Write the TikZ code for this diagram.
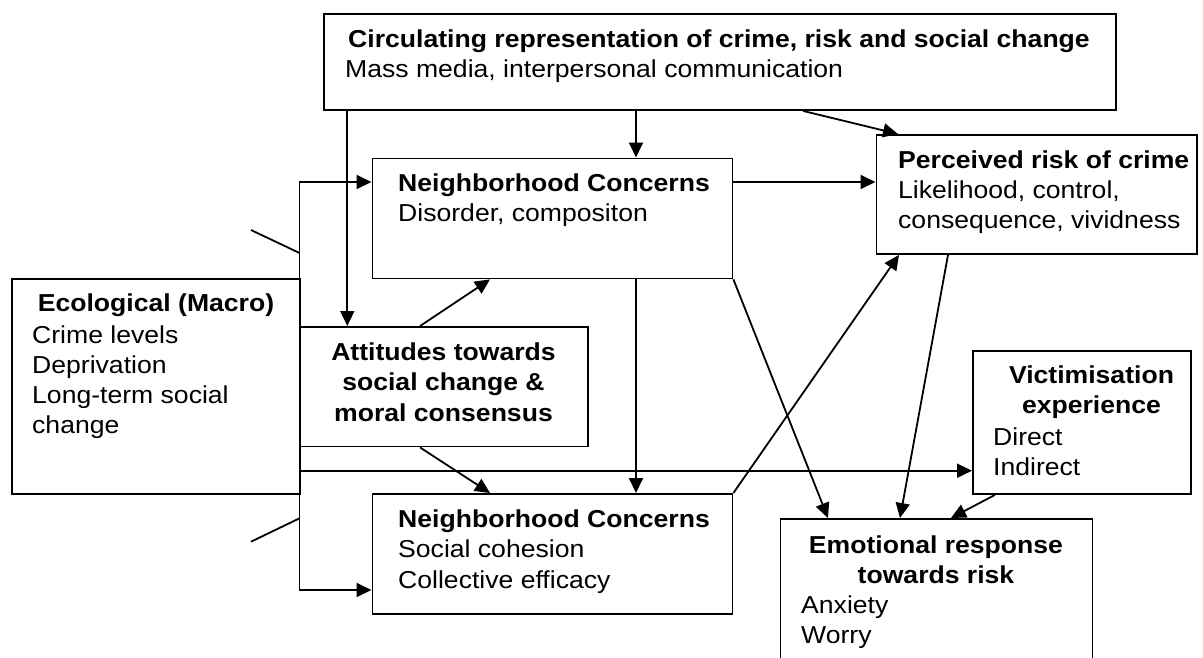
\documentclass[tikz,border=0pt]{standalone}
\usepackage{fontspec}
\setmainfont{Liberation Sans}[FakeStretch=1.085]
\usetikzlibrary{arrows.meta}
\newcommand\diagfs{\fontsize{24.5}{30}\selectfont}
\tikzset{
  box/.style={draw, line width=1.9pt, inner sep=0pt, anchor=north west},
  ln/.style={line width=1.8pt},
  arr/.style={line width=1.8pt, -{Triangle[length=15pt,width=14pt]}},
  tl/.style={anchor=base west, inner sep=0pt, font=\diagfs},
  tc/.style={anchor=base, inner sep=0pt, font=\diagfs\bfseries},
  tb/.style={anchor=base west, inner sep=0pt, font=\diagfs\bfseries},
}
\begin{document}
\begin{tikzpicture}[x=1pt,y=-1pt]
\useasboundingbox (0,0) rectangle (1203,657);
\clip (0,0) rectangle (1203,657);
\fill[white] (0,0) rectangle (1203,657);

% boxes
\node[box, minimum width=792pt, minimum height=96pt] (top) at (323,13) {};
\node[box, minimum width=360pt, minimum height=120pt] (nc1) at (371.5,157.5) {};
\node[box, minimum width=320.5pt, minimum height=119pt] (per) at (875.5,134) {};
\node[box, minimum width=288.5pt, minimum height=215pt] (eco) at (11,278) {};
\node[box, minimum width=287.5pt, minimum height=119.5pt] (att) at (299.5,326) {};
\node[box, minimum width=218pt, minimum height=143pt] (vic) at (972,350) {};
\node[box, minimum width=360pt, minimum height=120pt] (nc2) at (371.5,493) {};
\node[box, minimum width=312pt, minimum height=170pt] (emo) at (779.5,518) {};

% texts
\node[tc] (t1) at (719,47) {Circulating representation of crime, risk and social change};
\node[tl] (t2) at (345,77) {Mass media, interpersonal communication};

\node[tb] (n1a) at (398,191) {Neighborhood Concerns};
\node[tl] (n1b) at (398,221) {Disorder, compositon};

\node[tb] (p1) at (898,168) {Perceived risk of crime};
\node[tl] (p2) at (898,198) {Likelihood, control,};
\node[tl] (p3) at (898,228) {consequence, vividness};

\node[tc] (e1) at (156,311) {Ecological (Macro)};
\node[tl] (e2) at (32,343) {Crime levels};
\node[tl] (e3) at (32,373) {Deprivation};
\node[tl] (e4) at (32,403) {Long-term social};
\node[tl] (e5) at (32,433) {change};

\node[tc] (a1) at (443.5,360) {Attitudes towards};
\node[tc] (a2) at (443.5,390.5) {social change \&};
\node[tc] (a3) at (443.5,421) {moral consensus};

\node[tc] (v1) at (1091.5,383) {Victimisation};
\node[tc] (v2) at (1091.5,413.5) {experience};
\node[tl] (v3) at (993,445) {Direct};
\node[tl] (v4) at (993,475.5) {Indirect};

\node[tb] (n2a) at (398,527) {Neighborhood Concerns};
\node[tl] (n2b) at (398,557.5) {Social cohesion};
\node[tl] (n2c) at (398,588) {Collective efficacy};

\node[tc] (m1) at (936,553) {Emotional response};
\node[tc] (m2) at (936,583) {towards risk};
\node[tl] (m3) at (801,613) {Anxiety};
\node[tl] (m4) at (801,643) {Worry};

% spine and side strokes
\coordinate (s1) at (299.5,182);
\coordinate (s2) at (299.5,590);
\coordinate (s3) at (299.5,470.7);
\coordinate (d1) at (251,230);
\coordinate (d2) at (299.5,253);
\coordinate (d3) at (251,541.7);
\coordinate (d4) at (299.5,518.3);
\draw[ln, {Triangle[length=15pt,width=14pt]}-{Triangle[length=15pt,width=14pt]}]
  (s1 -| nc1.west) -- (s1) -- (s2) -- (s2 -| nc2.west);
\draw[arr] (s3) -- (s3 -| vic.west);
\draw[ln] (d1) -- (d2);
\draw[ln] (d3) -- (d4);

% connectors
\draw[arr] ([xshift=24.3pt]top.south west) -- ([xshift=47.8pt]att.north west);
\draw[arr] ([xshift=313pt]top.south west) -- ([xshift=264.5pt]nc1.north west);
\draw[arr] ([xshift=480pt]top.south west) -- ([xshift=22.5pt]per.north west);
\draw[arr] ([yshift=-24.5pt]nc1.north east) -- ([yshift=-48pt]per.north west);
\draw[arr] ([xshift=120.5pt]att.north west) -- ([xshift=118.5pt]nc1.south west);
\draw[arr] ([xshift=120.5pt]att.south west) -- ([xshift=118.5pt]nc2.north west);
\draw[arr] ([xshift=264.5pt]nc1.south west) -- ([xshift=264.5pt]nc2.north west);
\draw[arr] (nc1.south east) -- ([xshift=48.5pt]emo.north west);
\draw[arr] (nc2.north east) -- ([xshift=23.5pt]per.south west);
\draw[arr] ([xshift=72.5pt]per.south west) -- ([xshift=120.5pt]emo.north west);
\draw[arr] ([xshift=23pt]vic.south west) -- ([xshift=171.5pt]emo.north west);
\end{tikzpicture}
\end{document}
